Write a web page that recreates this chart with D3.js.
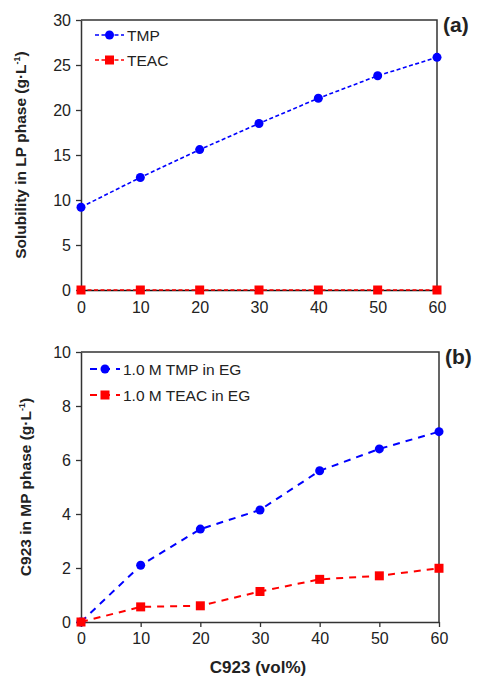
<!DOCTYPE html>
<html>
<head>
<meta charset="utf-8">
<script src="https://cdn.jsdelivr.net/npm/d3@7"></script>
<style>
  body { margin: 0; background: #fff; }
  svg { display: block; font-family: Arial, "Liberation Sans", sans-serif; }
</style>
</head>
<body>
<script>
// Data.
var xValues = [0, 10, 20, 30, 40, 50, 60];

var tmpLP = [9.2, 12.5, 15.6, 18.5, 21.3, 23.8, 25.85];
var teacLP = [0, 0, 0, 0, 0, 0, 0];

var tmpMP = [0, 2.10, 3.44, 4.15, 5.60, 6.41, 7.05];
var teacMP = [0, 0.56, 0.60, 1.13, 1.58, 1.71, 1.99];

var yTicksA = [0, 5, 10, 15, 20, 25, 30];
var yTicksB = [0, 2, 4, 6, 8, 10];

var w = 478, h = 683;
var axisColor = "#333";

var svg = d3.select("body").append("svg")
    .attr("width", w)
    .attr("height", h);

function panel(opt) {
    var x = d3.scaleLinear().domain([0, 60]).range([opt.left, opt.right]);
    var y = d3.scaleLinear().domain(opt.yDomain).range([opt.bottom, opt.top]);
    var g = svg.append("g");

    // frame (top and right)
    g.append("path")
        .attr("d", "M" + opt.left + "," + opt.top + "H" + opt.right + "V" + opt.bottom)
        .attr("fill", "none").attr("stroke", axisColor).attr("stroke-width", 1.5);

    // y axis
    var ya = g.append("g")
        .attr("transform", "translate(" + opt.left + ",0)")
        .call(d3.axisLeft(y).tickValues(opt.yTicks).tickSize(5).tickPadding(5).tickSizeOuter(0));
    ya.select(".domain").attr("stroke", axisColor).attr("stroke-width", 1.5);
    ya.selectAll(".tick line").attr("stroke", axisColor).attr("stroke-width", 1.3);
    ya.selectAll("text").attr("font-size", 16).attr("fill", "#222");

    // x axis
    var xa = g.append("g")
        .attr("transform", "translate(0," + opt.bottom + ")")
        .call(d3.axisBottom(x).tickValues(xValues).tickSize(opt.xTickSize).tickPadding(opt.xPad).tickSizeOuter(0));
    xa.select(".domain").attr("stroke", opt.xDomainColor).attr("stroke-width", 1.5);
    xa.selectAll(".tick line").attr("stroke", axisColor).attr("stroke-width", 1.3);
    xa.selectAll("text").attr("font-size", 16).attr("fill", "#222");

    // y title
    g.append("text")
        .attr("transform", "translate(" + opt.titleX + "," + ((opt.top + opt.bottom) / 2) + ") rotate(-90)")
        .attr("text-anchor", "middle")
        .attr("font-weight", "bold")
        .attr("font-size", 15.5)
        .attr("fill", "#222")
        .text(opt.yTitle[0])
        .append("tspan").attr("font-size", 9).attr("dy", -6).text("-1")
        .select(function() { return this.parentNode; })
        .append("tspan").attr("dy", 6).text(")");

    // panel label
    g.append("text")
        .attr("x", opt.right + 6).attr("y", opt.top + 12)
        .attr("font-weight", "bold").attr("font-size", 21).attr("fill", "#222")
        .text(opt.label);

    var line = d3.line().x(function(d, i) { return x(xValues[i]); }).y(function(d) { return y(d); });

    opt.series.forEach(function(s, k) {
        g.append("path")
            .datum(s.values)
            .attr("d", line)
            .attr("fill", "none")
            .attr("stroke", s.color)
            .attr("stroke-width", opt.lineWidth)
            .attr("stroke-dasharray", opt.dash);

        var m = g.append("g");
        s.values.forEach(function(v, i) {
            marker(m, x(xValues[i]), y(v), s.shape, s.color, opt.markerSize);
        });

        // legend
        var ly = opt.legendY + k * opt.legendGap;
        g.append("line")
            .attr("x1", opt.legendX).attr("x2", opt.legendX + opt.legendLen)
            .attr("y1", ly).attr("y2", ly)
            .attr("stroke", s.color).attr("stroke-width", opt.lineWidth)
            .attr("stroke-dasharray", opt.legendDash);
        marker(g, opt.legendX + opt.legendLen / 2, ly, s.shape, s.color, opt.markerSize);
        g.append("text")
            .attr("x", opt.legendX + opt.legendLen + 3).attr("y", ly + 5.5)
            .attr("font-size", 15.5).attr("fill", "#222")
            .text(s.name);
    });
}

function marker(g, cx, cy, shape, color, size) {
    if (shape === "circle") {
        g.append("circle").attr("cx", cx).attr("cy", cy).attr("r", size / 2).attr("fill", color);
    } else {
        g.append("rect").attr("x", cx - size / 2).attr("y", cy - size / 2)
            .attr("width", size).attr("height", size).attr("fill", color);
    }
}

panel({
    left: 81, right: 437, top: 20, bottom: 290,
    yDomain: [0, 30], yTicks: yTicksA,
    xTickSize: 0, xPad: 12, xDomainColor: "#111",
    yTitle: ["Solubility in LP phase (g·L"], titleX: 26,
    label: "(a)",
    lineWidth: 1.6, dash: "4,2.5", legendDash: "4,2.5", markerSize: 9,
    legendX: 95, legendLen: 29, legendY: 35, legendGap: 25,
    series: [
        { name: "TMP", values: tmpLP, color: "#0000ff", shape: "circle" },
        { name: "TEAC", values: teacLP, color: "#ff0000", shape: "square" }
    ]
});

panel({
    left: 81, right: 439, top: 352, bottom: 622,
    yDomain: [0, 10], yTicks: yTicksB,
    xTickSize: 5, xPad: 6, xDomainColor: axisColor,
    yTitle: ["C923 in MP phase (g·L"], titleX: 31,
    label: "(b)",
    lineWidth: 2, dash: "7,6", legendDash: "7,6", markerSize: 9,
    legendX: 90, legendLen: 30, legendY: 369, legendGap: 26,
    series: [
        { name: "1.0 M TMP in EG", values: tmpMP, color: "#0000ff", shape: "circle" },
        { name: "1.0 M TEAC in EG", values: teacMP, color: "#ff0000", shape: "square" }
    ]
});

// x axis title
svg.append("text")
    .attr("x", 258).attr("y", 673)
    .attr("text-anchor", "middle")
    .attr("font-weight", "bold").attr("font-size", 17).attr("fill", "#222")
    .text("C923 (vol%)");
</script>
</body>
</html>
